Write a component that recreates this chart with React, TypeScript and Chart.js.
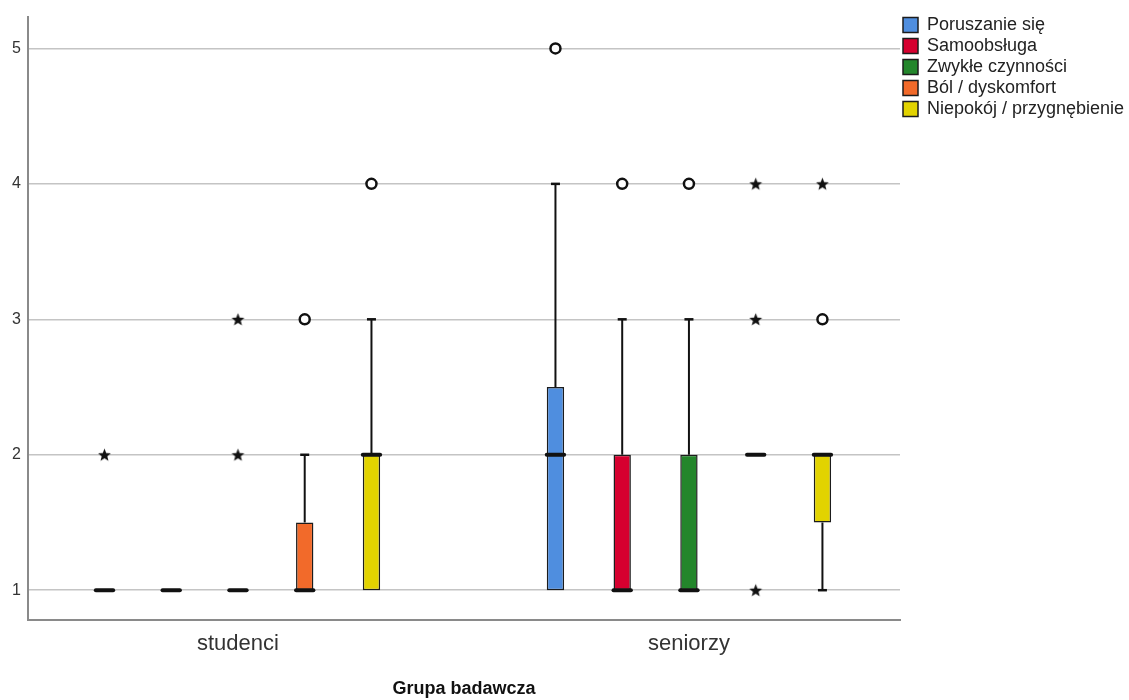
import React, { useEffect, useRef } from 'react';
import { Chart, registerables } from 'chart.js';

Chart.register(...registerables);

// Groups on the horizontal axis
const groups = ['studenci', 'seniorzy'];

// EQ-5D dimensions shown as boxes within each group
const seriesNames = [
  'Poruszanie się',
  'Samoobsługa',
  'Zwykłe czynności',
  'Ból / dyskomfort',
  'Niepokój / przygnębienie',
];
const seriesColors = ['#4F8EDF', '#D6002F', '#23862B', '#F26A2A', '#E2D300'];

// Box statistics per dimension, values given as [studenci, seniorzy]
const whiskerLow = [[1, 1], [1, 1], [1, 1], [1, 2], [1, 1]];
const quartile1 = [[1, 1], [1, 1], [1, 1], [1, 2], [1, 1.5]];
const medians = [[1, 2], [1, 1], [1, 1], [1, 2], [2, 2]];
const quartile3 = [[1, 2.5], [1, 2], [1, 2], [1.5, 2], [2, 2.0]];
const whiskerHigh = [[1, 4], [1, 3], [1, 3], [2, 2], [3, 2]];

// Outliers (circles) and extreme values (stars), [studenci, seniorzy]
const outliers: number[][][] = [[[], [5]], [[], [4]], [[], [4]], [[3], []], [[4], [3]]];
const extremes: number[][][] = [[[2], []], [[], []], [[2, 3], []], [[], [1, 3, 4]], [[], [4]]];

// Axis ticks
const yTicks = [1, 2, 3, 4, 5];

const categoryPercentage = 0.74;
const barPercentage = 0.26;
const FONT = "'Liberation Sans', Arial, sans-serif";

function makeStar(): HTMLCanvasElement {
  const c = document.createElement('canvas');
  c.width = 15;
  c.height = 15;
  const g = c.getContext('2d')!;
  g.fillStyle = '#111';
  g.beginPath();
  for (let i = 0; i < 10; i++) {
    const r = i % 2 === 0 ? 6.8 : 2.9;
    const a = -Math.PI / 2 + (i * Math.PI) / 5;
    const px = 7.5 + r * Math.cos(a);
    const py = 8 + r * Math.sin(a);
    if (i === 0) g.moveTo(px, py);
    else g.lineTo(px, py);
  }
  g.closePath();
  g.fill();
  return c;
}

// Whiskers, caps and median lines, placed on each box through the scales
const boxWhiskers = {
  id: 'boxWhiskers',
  afterDatasetsDraw(chart: any) {
    const { ctx } = chart;
    const yScale = chart.scales.y;
    ctx.save();
    ctx.strokeStyle = '#111';
    seriesNames.forEach((_, s) => {
      const meta = chart.getDatasetMeta(s);
      meta.data.forEach((bar: any, g: number) => {
        const { x, width } = bar.getProps(['x', 'width'], true);
        const pLow = yScale.getPixelForValue(whiskerLow[s][g]);
        const pQ1 = yScale.getPixelForValue(quartile1[s][g]);
        const pMed = yScale.getPixelForValue(medians[s][g]);
        const pQ3 = yScale.getPixelForValue(quartile3[s][g]);
        const pHigh = yScale.getPixelForValue(whiskerHigh[s][g]);
        const capHalf = 4.5;
        if (whiskerHigh[s][g] > quartile3[s][g]) {
          ctx.lineWidth = 2;
          ctx.beginPath();
          ctx.moveTo(x, pQ3);
          ctx.lineTo(x, pHigh);
          ctx.stroke();
          ctx.lineWidth = 2.5;
          ctx.beginPath();
          ctx.moveTo(x - capHalf, pHigh);
          ctx.lineTo(x + capHalf, pHigh);
          ctx.stroke();
        }
        if (whiskerLow[s][g] < quartile1[s][g]) {
          ctx.lineWidth = 2;
          ctx.beginPath();
          ctx.moveTo(x, pQ1);
          ctx.lineTo(x, pLow);
          ctx.stroke();
          ctx.lineWidth = 2.5;
          ctx.beginPath();
          ctx.moveTo(x - capHalf, pLow);
          ctx.lineTo(x + capHalf, pLow);
          ctx.stroke();
        }
        ctx.lineWidth = 4;
        ctx.lineCap = 'round';
        ctx.beginPath();
        ctx.moveTo(x - width / 2, pMed);
        ctx.lineTo(x + width / 2, pMed);
        ctx.stroke();
        ctx.lineCap = 'butt';
      });
    });
    ctx.restore();
  },
};

// Keeps the legend column narrow so it sits right next to the plot
const legendColumn = {
  id: 'legendColumn',
  beforeInit(chart: any) {
    const legend = chart.legend;
    if (!legend) return;
    const fit = legend.fit;
    legend.fit = function () {
      fit.call(this);
      this.width = 229;
    };
  },
};

export default function App() {
  const canvasRef = useRef<HTMLCanvasElement | null>(null);

  useEffect(() => {
    document.body.style.margin = '0';
    const canvas = canvasRef.current;
    if (!canvas) return;
    const star = makeStar();
    const slot = categoryPercentage / seriesNames.length;
    const center = (seriesNames.length - 1) / 2;

    const boxSets = seriesNames.map((name, s) => ({
      type: 'bar' as const,
      label: name,
      data: groups.map((_, g) => ({ x: g, y: [quartile1[s][g], quartile3[s][g]] })),
      backgroundColor: seriesColors[s],
      borderColor: '#1c1c1c',
      borderWidth: 1.5,
      borderSkipped: false,
      categoryPercentage,
      barPercentage,
    }));

    const pointsOf = (src: number[][][]) => {
      const pts: { x: number; y: number }[] = [];
      src.forEach((perGroup, s) =>
        perGroup.forEach((vals, g) =>
          vals.forEach((v) => pts.push({ x: g + (s - center) * slot, y: v }))
        )
      );
      return pts;
    };

    const chart = new Chart(canvas, {
      type: 'bar',
      data: {
        datasets: [
          ...boxSets,
          {
            type: 'scatter' as const,
            label: 'outliers',
            data: pointsOf(outliers),
            pointStyle: 'circle',
            pointRadius: 5,
            pointBorderWidth: 2.5,
            pointBorderColor: '#111',
            pointBackgroundColor: '#ffffff',
          } as any,
          {
            type: 'scatter' as const,
            label: 'extremes',
            data: pointsOf(extremes),
            pointStyle: star,
            pointRadius: 7,
          } as any,
        ],
      },
      options: {
        animation: false,
        responsive: false,
        devicePixelRatio: 1,
        events: [],
        layout: { padding: { top: 13, right: 0, bottom: 0, left: 0 } },
        plugins: {
          tooltip: { enabled: false },
          legend: {
            position: 'right',
            align: 'start',
            labels: {
              filter: (item: any) => item.datasetIndex < seriesNames.length,
              boxWidth: 15,
              boxHeight: 15,
              padding: 3,
              color: '#222',
              font: { family: FONT, size: 18 },
            },
          },
        },
        scales: {
          x: {
            type: 'linear',
            offset: false,
            min: -0.4656,
            max: 1.468,
            afterBuildTicks: (scale: any) => {
              scale.ticks = groups.map((_, i) => ({ value: i }));
            },
            afterFit: (scale: any) => {
              scale.height = 80;
            },
            ticks: {
              callback: (v: any) => groups[v as number] ?? '',
              color: '#333',
              padding: 11,
              font: { family: FONT, size: 22 },
            },
            grid: { display: false, drawTicks: false, offset: false },
            border: { display: true, color: '#8a8a8a', width: 2 },
            title: {
              display: true,
              text: 'Grupa badawcza',
              color: '#111',
              padding: { top: 0, bottom: 0 },
              font: { family: FONT, size: 18, weight: 'bold' },
            },
          },
          y: {
            type: 'linear',
            min: 0.78,
            max: 5.235,
            afterBuildTicks: (scale: any) => {
              scale.ticks = yTicks.map((v) => ({ value: v }));
            },
            afterFit: (scale: any) => {
              scale.width = 28;
            },
            ticks: {
              color: '#333',
              padding: 7,
              font: { family: FONT, size: 16 },
            },
            grid: { color: '#c4c4c4', lineWidth: 1.5, drawTicks: false },
            border: { display: true, color: '#8a8a8a', width: 2 },
          },
        },
      } as any,
      plugins: [boxWhiskers, legendColumn],
    });

    return () => chart.destroy();
  }, []);

  return (
    <div style={{ width: 1129, height: 700, background: '#fff' }}>
      <canvas ref={canvasRef} width={1129} height={700} />
    </div>
  );
}
